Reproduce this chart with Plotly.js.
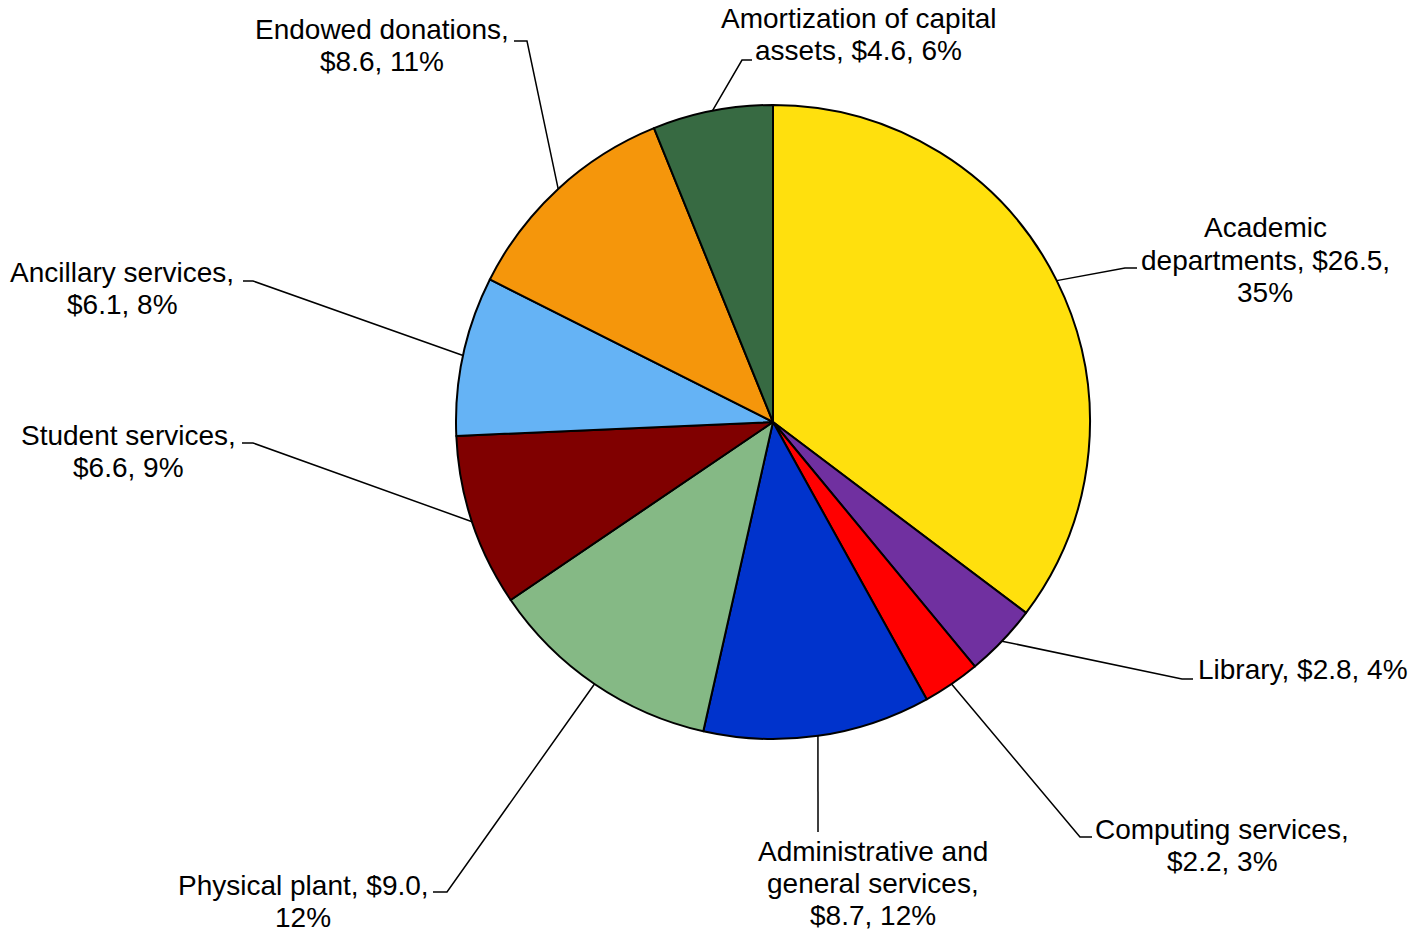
<!DOCTYPE html>
<html>
<head>
<meta charset="utf-8">
<script src="https://cdn.plot.ly/plotly-3.0.1.min.js"></script>
<style>html,body{margin:0;padding:0;background:#fff;}#chart{width:1427px;height:930px;}</style>
</head>
<body>
<div id="chart"></div>
<script>
// ---- data ----
const categories = ["Academic departments", "Library", "Computing services", "Administrative and general services", "Physical plant", "Student services", "Ancillary services", "Endowed donations", "Amortization of capital assets"];
const values = [26.5, 2.8, 2.2, 8.7, 9.0, 6.6, 6.1, 8.6, 4.6];
const colors = ["#FFE00D", "#7030A0", "#FF0000", "#0033CC", "#85B985", "#800000", "#65B3F5", "#F5960B", "#376A42"];

// ---- layout (pixels) ----
const W = 1427, H = 930;
const CX = 773, CY = 422, R = 317;
// label layout: words per line, label center x, first line center y, elbow point, end of horizontal tick
const labelLayout = [
  {words: [1, 2, 1], x: 1265, y: 228, elbow: [1125, 268], end: [1137, 268]},
  {words: [4], x: 1303, y: 669, elbow: [1182, 679], end: [1193, 679]},
  {words: [2, 2], x: 1222, y: 829, elbow: [1080, 837], end: [1092, 837]},
  {words: [2, 2, 2], x: 873, y: 851, elbow: [818, 832], end: [818, 832]},
  {words: [3, 1], x: 303, y: 885, elbow: [447, 892], end: [433, 892]},
  {words: [2, 2], x: 128, y: 435, elbow: [253, 443], end: [242, 443]},
  {words: [2, 2], x: 122, y: 272, elbow: [253, 281], end: [243, 281]},
  {words: [2, 2], x: 382, y: 30, elbow: [527, 41], end: [514, 41]},
  {words: [3, 3], x: 858, y: 19, elbow: [742, 60], end: [752, 60]}
];
const LINE_H = 32;
const FONT = {family: "Liberation Sans, Arial, sans-serif", size: 28, color: "#000"};

const total = values.reduce((a, b) => a + b, 0);
const px = x => x / W, py = y => 1 - y / H;

const annotations = [];
const shapes = [];
let cum = 0;
values.forEach((v, i) => {
  const pct = Math.round(v / total * 100);
  const full = `${categories[i]}, $${v.toFixed(1)}, ${pct}%`;
  const words = full.split(" ");
  const L = labelLayout[i];
  let k = 0;
  L.words.forEach((n, li) => {
    const line = words.slice(k, k + n).join(" ");
    k += n;
    annotations.push({
      xref: "paper", yref: "paper", x: px(L.x), y: py(L.y + li * LINE_H),
      xanchor: "center", yanchor: "middle", text: line, showarrow: false,
      borderpad: 0, font: FONT
    });
  });
  // leader line from slice midpoint on the rim
  const th = 2 * Math.PI * (cum + v / 2) / total;
  const ex = CX + R * Math.sin(th), ey = CY - R * Math.cos(th);
  cum += v;
  shapes.push({
    type: "path", xref: "paper", yref: "paper",
    path: `M ${px(ex)} ${py(ey)} L ${px(L.elbow[0])} ${py(L.elbow[1])} L ${px(L.end[0])} ${py(L.end[1])}`,
    line: {color: "#000", width: 1.5}
  });
});

const trace = {
  type: "pie",
  labels: categories,
  values: values,
  sort: false,
  direction: "clockwise",
  rotation: 0,
  textinfo: "none",
  hoverinfo: "label+value+percent",
  marker: {colors: colors, line: {color: "#000", width: 2}},
  domain: {x: [(CX - R) / W, (CX + R) / W], y: [1 - (CY + R) / H, 1 - (CY - R) / H]},
  showlegend: false
};

Plotly.newPlot("chart", [trace], {
  width: W, height: H,
  margin: {l: 0, r: 0, t: 0, b: 0},
  paper_bgcolor: "#fff",
  showlegend: false,
  annotations: annotations,
  shapes: shapes
}, {displayModeBar: false, staticPlot: true});
</script>
</body>
</html>
